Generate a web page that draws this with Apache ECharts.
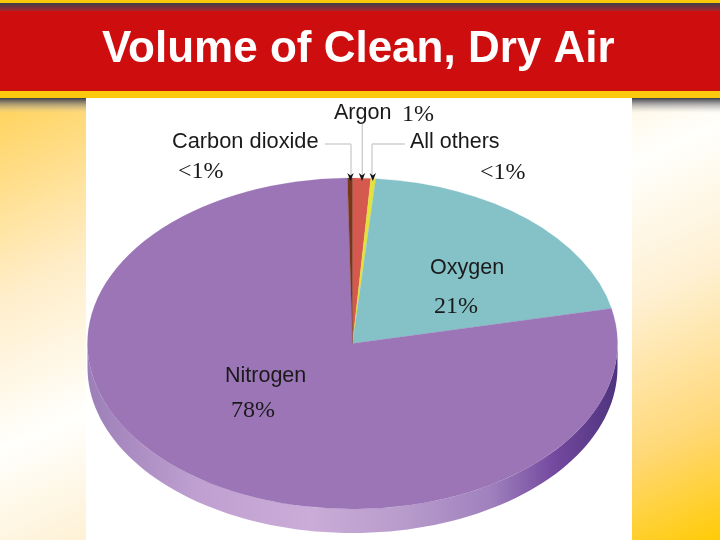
<!DOCTYPE html>
<html>
<head>
<meta charset="utf-8">
<style>html,body{margin:0;padding:0;background:#fff}#c{width:720px;height:540px}</style>
<script src="https://cdn.jsdelivr.net/npm/echarts@6/dist/echarts.min.js"></script>
</head>
<body>
<div id="c"></div>
<script>
// Slices in clockwise order from the top of the pie (shares as drawn in the picture)
const names = ['Argon', 'All others', 'Oxygen', 'Nitrogen', 'Carbon dioxide'];
const shares = [1.1, 0.3, 20.2, 78.1, 0.3];
const printed = ['1%', '<1%', '21%', '78%', '<1%'];
const sliceColors = ['#D5594F', '#E2E23C', '#84C2C8', '#9B75B6', '#7A3518'];
const titleText = 'Volume of Clean, Dry Air';

const CX = 352.5, CY = 343.5, RX = 265, RY = 165.5, DEPTH = 24;
const squash = RY / RX;

let acc = 0;
const rows = shares.map(function (v, i) {
  const r = [acc, acc + v, i];
  acc += v;
  return r;
});

const rimFill = {
  type: 'linear', global: true, x: CX - RX, y: 0, x2: CX + RX, y2: 0,
  colorStops: [
    { offset: 0, color: '#9C7FB8' },
    { offset: 0.2, color: '#BE9FD0' },
    { offset: 0.42, color: '#CBACD8' },
    { offset: 0.6, color: '#B79BCB' },
    { offset: 0.76, color: '#A081BE' },
    { offset: 0.88, color: '#74499F' },
    { offset: 1, color: '#4E337E' }
  ]
};

function renderSlice(params, api) {
  const cs = params.coordSys;
  const a = api.coord([1, api.value(0)]);
  const b = api.coord([1, api.value(1)]);
  const idx = api.value(2);
  const sector = {
    type: 'sector',
    originX: cs.cx, originY: cs.cy, scaleY: squash,
    shape: {
      cx: cs.cx, cy: cs.cy, r0: 0, r: cs.r,
      startAngle: Math.atan2(a[1] - cs.cy, a[0] - cs.cx),
      endAngle: Math.atan2(b[1] - cs.cy, b[0] - cs.cx),
      clockwise: true
    },
    style: { fill: sliceColors[idx], stroke: sliceColors[idx], lineWidth: 0.3 }
  };
  if (names[idx] !== 'Nitrogen') return sector;
  const rim = [];
  for (let d = 0; d <= 180; d += 2) {
    const t = d * Math.PI / 180;
    rim.push([cs.cx + cs.r * Math.cos(t), cs.cy + cs.r * squash * Math.sin(t)]);
  }
  for (let d = 180; d >= 0; d -= 2) {
    const t = d * Math.PI / 180;
    rim.push([cs.cx + cs.r * Math.cos(t), cs.cy + DEPTH + cs.r * squash * Math.sin(t)]);
  }
  return {
    type: 'group',
    children: [
      { type: 'polygon', shape: { points: rim }, style: { fill: rimFill } },
      sector
    ]
  };
}

function label(text, x, y, font, size) {
  return {
    type: 'text', x: x, y: y, z: 50, silent: true,
    style: { text: text, fontFamily: font, fontSize: size, fill: '#1a1a1a', verticalAlign: 'middle' }
  };
}
function line(x1, y1, x2, y2) {
  return { type: 'line', z: 40, silent: true, shape: { x1: x1, y1: y1, x2: x2, y2: y2 }, style: { stroke: '#CFCFCF', lineWidth: 1.4 } };
}
function arrow(x) {
  return {
    type: 'polygon', z: 45, silent: true,
    shape: { points: [[x - 3.2, 173], [x, 175.5], [x + 3.2, 173], [x, 181]] },
    style: { fill: '#111' }
  };
}
function band(y, h, stops, x, w) {
  return {
    type: 'rect', z: -5, silent: true,
    shape: { x: x === undefined ? 0 : x, y: y, width: w === undefined ? 720 : w, height: h },
    style: { fill: stops }
  };
}
const v = function (a, b) {
  return { type: 'linear', x: 0, y: 0, x2: 0, y2: 1, colorStops: [{ offset: 0, color: a }, { offset: 1, color: b }] };
};
const SANS = '"Liberation Sans", Arial, sans-serif';
const SERIF = '"Liberation Serif", "Times New Roman", serif';

const chart = echarts.init(document.getElementById('c'), null, { renderer: 'canvas' });
chart.setOption({
  animation: false,
  backgroundColor: 'transparent',
  title: {
    text: titleText, left: 102, top: 28, padding: 0, z: 60,
    textStyle: { fontFamily: SANS, fontWeight: 'bold', fontSize: 44, color: '#FFFFFF' }
  },
  polar: { center: [CX, CY], radius: RX },
  angleAxis: { type: 'value', min: 0, max: 100, startAngle: 90, clockwise: true, show: false },
  radiusAxis: { type: 'value', min: 0, max: 1, show: false },
  series: [{
    type: 'custom',
    coordinateSystem: 'polar',
    z: 10,
    silent: true,
    encode: { radius: -1, angle: [0, 1] },
    data: rows,
    renderItem: renderSlice,
    clip: false
  }],
  graphic: [
    // slide background, diagonal gold - white - gold
    { type: 'rect', z: -10, silent: true, shape: { x: 0, y: 0, width: 720, height: 540 },
      style: { fill: { type: 'linear', global: true, x: 0, y: 0, x2: 326, y2: 719,
        colorStops: [
          { offset: 0, color: '#FFC93A' },
          { offset: 0.14, color: '#FFD566' },
          { offset: 0.34, color: '#FFEDC8' },
          { offset: 0.52, color: '#FFFFFC' },
          { offset: 0.68, color: '#FEF0D2' },
          { offset: 0.86, color: '#FFD877' },
          { offset: 1, color: '#FFCB05' }
        ] } } },
    band(0, 3, '#FDC70C'),
    band(3, 9, v('#3E3E48', '#B6202A')),
    band(11, 80, '#CE0E0E'),
    band(91, 7, '#FDC90F'),
    band(98, 15, v('#3C3C48', 'rgba(190,190,190,0)')),
    band(98, 442, '#FFFFFF', 86, 546),
    // leader lines
    line(325, 144, 351, 144), line(351, 144, 351, 176),
    line(362.3, 124, 362.3, 176),
    line(405, 144, 372, 144), line(372, 144, 372, 176),
    arrow(350.5), arrow(362), arrow(372.8),
    // text
    label(names[0], 334, 113, SANS, 21.5),
    label(printed[0], 402, 115, SERIF, 24),
    label(names[4], 172, 142, SANS, 21.8),
    label(printed[4], 178, 172, SERIF, 24),
    label(names[1], 410, 142, SANS, 21.5),
    label(printed[1], 480, 173, SERIF, 24),
    label(names[2], 430, 268, SANS, 21.5),
    label(printed[2], 434, 307, SERIF, 24),
    label(names[3], 225, 376, SANS, 21.5),
    label(printed[3], 231, 411, SERIF, 24)
  ]
});
</script>
</body>
</html>
